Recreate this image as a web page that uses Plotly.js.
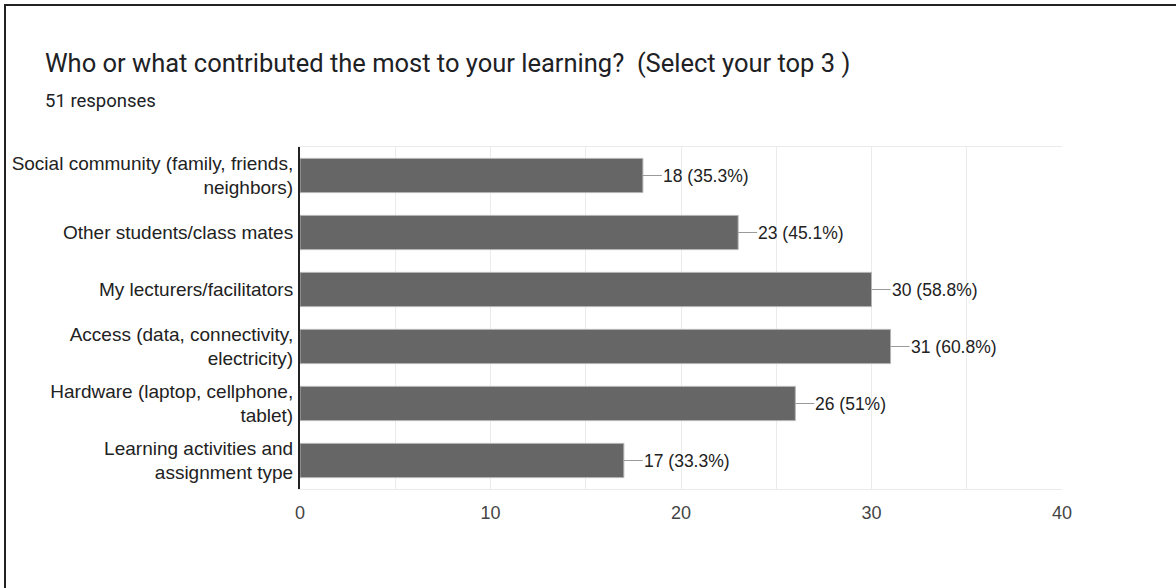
<!DOCTYPE html>
<html>
<head>
<meta charset="utf-8">
<script src="https://cdn.plot.ly/plotly-3.0.1.min.js"></script>
<style>
  html, body { margin: 0; padding: 0; background: #fff; }
  #wrap { position: relative; width: 1176px; height: 588px; overflow: hidden; }
  #chart { position: absolute; left: 0; top: 0; width: 1176px; height: 588px; }
  #frame { position: absolute; left: 4px; top: 4px; width: 1200px; height: 600px;
           border-top: 2px solid #222; border-left: 2px solid #222; pointer-events: none; }
</style>
</head>
<body>
<div id="wrap">
  <div id="chart"></div>
  <div id="frame"></div>
</div>
<script>
const titleText = "Who or what contributed the most to your learning?  (Select your top 3 )";
const subtitleText = "51 responses";
const categories = [
  "Social community (family, friends,<br>neighbors)",
  "Other students/class mates",
  "My lecturers/facilitators",
  "Access (data, connectivity,<br>electricity)",
  "Hardware (laptop, cellphone,<br>tablet)",
  "Learning activities and<br>assignment type"
];
const counts = [18, 23, 30, 31, 26, 17];
const percents = ["35.3%", "45.1%", "58.8%", "60.8%", "51%", "33.3%"];
const xTickVals = [0, 10, 20, 30, 40];

const arial = "Arial, 'Liberation Sans', sans-serif";

const trace = {
  type: "bar",
  orientation: "h",
  y: categories,
  x: counts,
  marker: { color: "#666666", line: { color: "#b4b4b4", width: 1 } },
  hoverinfo: "none"
};

const annotations = counts.map((c, i) => ({
  x: c, y: categories[i], xref: "x", yref: "y",
  text: c + " (" + percents[i] + ")",
  showarrow: true, arrowhead: 0, arrowwidth: 1, arrowcolor: "#9a9a9a",
  ax: 19, ay: 0, axref: "pixel", ayref: "pixel",
  xanchor: "left", yanchor: "middle", standoff: 0, borderpad: 0,
  font: { family: arial, size: 17.5, color: "#222" }
}));

// title and subtitle positioned in paper coordinates
const plotL = 300, plotR = 1062, plotT = 147, plotB = 489;
const px2paperX = px => (px - plotL) / (plotR - plotL);
const px2paperY = py => (plotB - py) / (plotB - plotT);

annotations.push({
  xref: "paper", yref: "paper", x: px2paperX(43), y: px2paperY(63),
  xanchor: "left", yanchor: "middle", showarrow: false, text: titleText,
  font: { family: "Roboto, sans-serif", size: 25.5, color: "#202124" }
});
annotations.push({
  xref: "paper", yref: "paper", x: px2paperX(43), y: px2paperY(101),
  xanchor: "left", yanchor: "middle", showarrow: false, text: subtitleText,
  font: { family: "Roboto, sans-serif", size: 18.5, color: "#202124" }
});

const layout = {
  width: 1176, height: 588,
  margin: { l: plotL, r: 1176 - plotR, t: plotT, b: 588 - plotB, pad: 0 },
  paper_bgcolor: "#ffffff", plot_bgcolor: "#ffffff",
  showlegend: false,
  bargap: 0.4,
  xaxis: {
    range: [0, 40], tickvals: xTickVals, ticktext: xTickVals.map(String),
    showgrid: true, gridcolor: "#ebebeb", gridwidth: 1,
    minor: { dtick: 5, tick0: 0, showgrid: true, gridcolor: "#ebebeb", gridwidth: 1 },
    zeroline: false, showline: true, mirror: true, linecolor: "#ebebeb", linewidth: 1,
    ticks: "outside", ticklen: 7, tickcolor: "rgba(0,0,0,0)",
    tickfont: { family: arial, size: 18, color: "#444" },
    fixedrange: true
  },
  yaxis: {
    autorange: "reversed", type: "category",
    showgrid: false, zeroline: false,
    showline: true, linecolor: "#222", linewidth: 2,
    ticks: "outside", ticklen: 1, tickcolor: "rgba(0,0,0,0)",
    tickfont: { family: arial, size: 19, color: "#222" },
    fixedrange: true
  },
  annotations: annotations
};

Plotly.newPlot("chart", [trace], layout, { displayModeBar: false, staticPlot: true });
</script>
</body>
</html>
